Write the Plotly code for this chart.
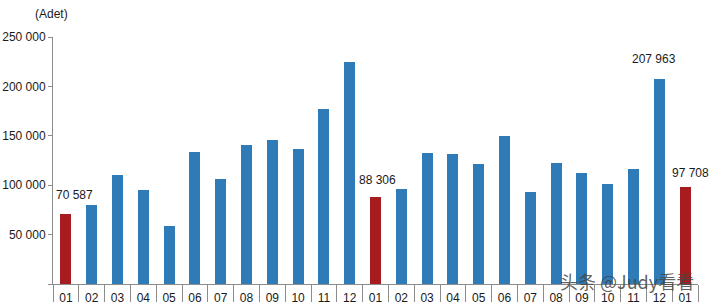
import plotly.graph_objects as go

# ---- data ----
months = ["01", "02", "03", "04", "05", "06", "07", "08", "09", "10", "11", "12",
          "01", "02", "03", "04", "05", "06", "07", "08", "09", "10", "11", "12", "01"]
values = [70587, 80000, 110300, 95100, 58700, 133300, 106300, 140700, 145700, 136600,
          177100, 224700, 88306, 95800, 132600, 131600, 121500, 149800, 93100, 122500,
          112400, 101200, 116400, 207963, 97708]
labeled = [0, 12, 23, 24]
unit_label = "(Adet)"
watermark = "头条 @Judy看看"

# ---- style ----
BLUE = "#2e7bb7"
RED = "#a61c1f"
label_shift = {0: (9, 10), 12: (2, 8), 23: (-5, 11), 24: (5, 5)}

x = list(range(len(months)))
colors = [RED if m == "01" else BLUE for m in months]

fig = go.Figure()
fig.add_trace(go.Bar(x=x, y=values, marker=dict(color=colors, line=dict(width=0)),
                     width=0.43, hoverinfo="skip"))

font = dict(family="Liberation Sans, Arial, sans-serif", size=12, color="#1a1a1a")

for i in labeled:
    dx, dy = label_shift[i]
    fig.add_annotation(x=i, y=values[i], text=f"{values[i]:,}".replace(",", " "),
                       showarrow=False, yanchor="bottom", xanchor="center",
                       xshift=dx, yshift=dy, font=font)

fig.add_annotation(xref="paper", yref="paper", x=0, y=1, xanchor="center", yanchor="bottom",
                   xshift=-2, yshift=14, text=unit_label, showarrow=False, font=font)

fig.add_annotation(xref="paper", yref="paper", x=1, y=0, xanchor="right", yanchor="middle",
                   xshift=-2, yshift=3, text=watermark, showarrow=False,
                   font=dict(family="Noto Sans CJK SC", size=18, color="rgba(70,70,70,0.85)"))

fig.update_layout(
    width=710, height=302,
    margin=dict(l=53, r=12, t=37, b=18),
    paper_bgcolor="white", plot_bgcolor="white",
    showlegend=False,
    separators=". ",
    bargap=0,
    font=font,
)
fig.update_xaxes(
    automargin=False,
    range=[-0.5, len(months) - 0.5],
    tickmode="array", tickvals=x, ticktext=months,
    ticks="", ticklabelstandoff=3,
    showline=True, linecolor="#8c8c8c", linewidth=1,
    showgrid=False, zeroline=False,
    minor=dict(tickmode="array", tickvals=[i - 0.5 for i in range(len(months) + 1)],
               ticks="outside", ticklen=20, tickcolor="#8c8c8c", tickwidth=1, showgrid=False),
    tickfont=font,
)
fig.update_yaxes(
    automargin=False,
    range=[0, 250000],
    tickmode="array", tickvals=[0, 50000, 100000, 150000, 200000, 250000],
    ticktext=["", "50 000", "100 000", "150 000", "200 000", "250 000"],
    ticks="outside", ticklen=4, tickcolor="#8c8c8c",
    showline=True, linecolor="#8c8c8c", linewidth=1,
    showgrid=False, zeroline=False,
    tickfont=font,
)

fig.write_html("out.html")
